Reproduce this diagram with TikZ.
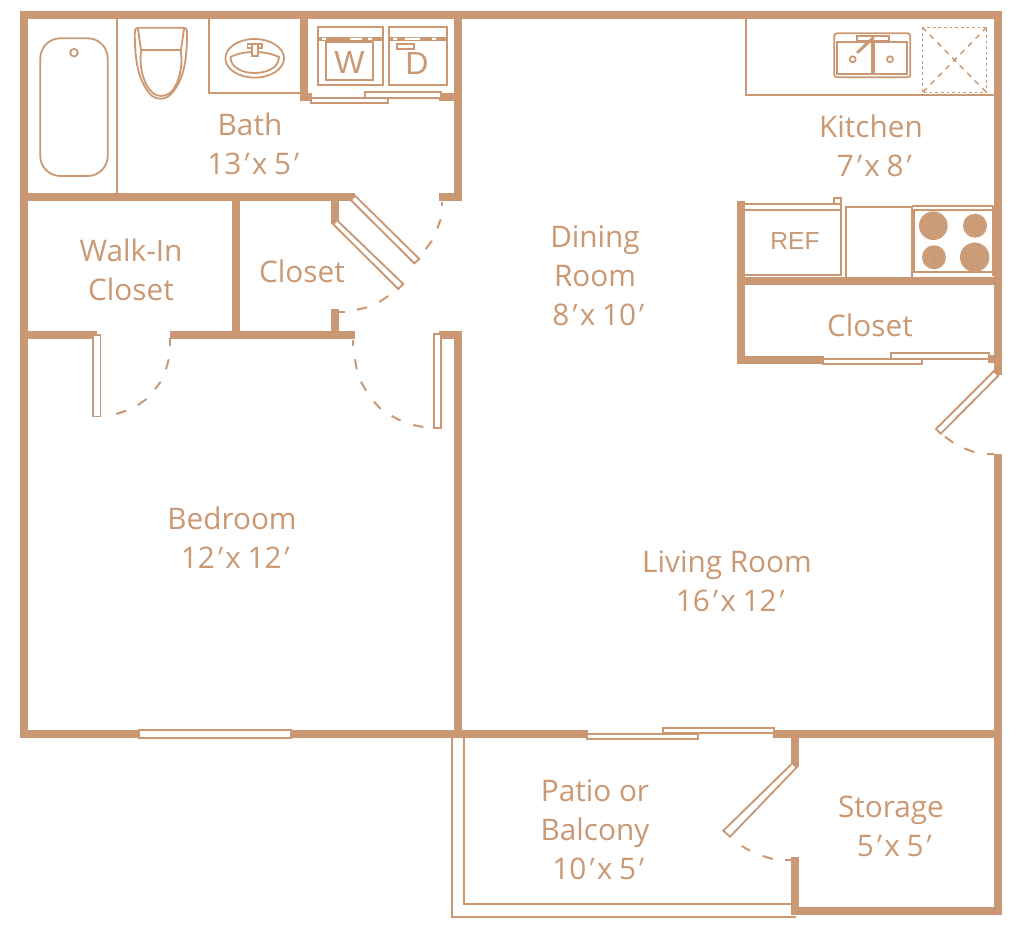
\documentclass[tikz,border=0pt]{standalone}
\usepackage{fontspec}
\setmainfont{Open Sans}
\newfontfamily\arialfont{Liberation Sans}
\newfontfamily\primefont[FakeSlant=0.35]{Open Sans}
\definecolor{tan}{HTML}{CA9974}
\tikzset{
  wall/.style={line width=6pt,color=tan,line cap=butt},
  thin/.style={line width=1.35pt,color=tan},
  fine/.style={line width=1.1pt,color=tan},
  door/.style={draw=tan,fill=white,line width=1.4pt},
  swing/.style={line width=1.5pt,color=tan},
  room/.style={text=tan,align=center,font=\fontsize{22.3}{29.3}\selectfont,inner sep=0pt},
  applabel/.style={text=tan,inner sep=0pt,font=\arialfont\fontsize{18.5}{20}\selectfont},
  burner/.style={fill=tan,draw=none},
  ring/.style={draw=white,opacity=0.16,line width=0.35pt},
}
\newcommand{\prm}{\kern-0.13em{\primefont\char"2032}\kern-0.04em}
\newcommand{\by}{\hspace{0.3em}x\hspace{0.22em}}
\begin{document}
\begin{tikzpicture}[x=0.75pt,y=-0.75pt]
\useasboundingbox (0,0) rectangle (1020,942);
\fill[white] (0,0) rectangle (1020,942);
% --- light fixture lines
\draw[thin] (116.8,19) -- (116.8,193);
\draw[thin] (209.3,19) -- (209.3,92.7) -- (300,92.7);
\draw[thin] (745.7,19) -- (745.7,95) -- (994,95);
% patio rail
\draw[thin] (451.7,738) -- (451.7,917.3) -- (796,917.3);
\draw[thin] (464,738) -- (464,904.3) -- (791,904.3);
% --- walls
\draw[wall] (24.3,11.5) -- (24.3,738);
\draw[wall] (20.5,15.5) -- (1002,15.5);
\draw[wall] (998,11.5) -- (998,374.5);
\draw[wall] (998,453.5) -- (998,914.5);
\draw[wall] (24,196.7) -- (355,196.7);
\draw[wall] (235.5,196) -- (235.5,335);
\draw[wall] (335,196) -- (335,223.5);
\draw[wall] (335,309.3) -- (335,335);
\draw[wall] (457.5,15) -- (457.5,200.7);
\draw[wall] (439,196.8) -- (457,196.8);
\draw[wall] (304,15) -- (304,101);
\draw[wall] (300,97.2) -- (312,97.2);
\draw[wall] (439,97.2) -- (457,97.2);
\draw[wall] (24,335) -- (97.3,335);
\draw[wall] (170,335) -- (355,335);
\draw[wall] (439,335) -- (461.7,335);
\draw[wall] (457.5,331) -- (457.5,738);
\draw[wall] (20.5,734) -- (587.7,734);
\draw[wall] (772.7,734) -- (1002,734);
\draw[wall] (795,734) -- (795,767);
\draw[wall] (795,857.3) -- (795,914.5);
\draw[wall] (791,910.5) -- (1002,910.5);
\draw[wall] (740.7,201) -- (740.7,363.3);
\draw[wall] (737,280.5) -- (994,280.5);
\draw[wall] (737,359.5) -- (824.3,359.5);
\draw[wall] (987.5,359) -- (994,359);
% --- sliding doors and windows
\draw[door] (311,97.7) rectangle (388,103.3);
\draw[door] (365,91.7) rectangle (441,97.7);
\draw[door] (823.3,359) rectangle (921.7,364.3);
\draw[door] (891,353.3) rectangle (989.3,359);
\draw[door] (586.7,734) rectangle (698.3,739.3);
\draw[door] (663.3,727.7) rectangle (774.3,733.3);
\draw[door,line width=1.7pt] (139,729.7) rectangle (291,738.3);
% --- swinging doors
\draw[door] (355,195.7) -- (350.7,200) -- (414.3,263.3) -- (419.3,259) -- cycle;
\draw[door] (336.7,220) -- (333.3,224.3) -- (398.3,289) -- (403.3,284) -- cycle;
\draw[door] (434,334) rectangle (441,428.3);
\draw[door] (93,335) rectangle (100.5,416.5);
\draw[door] (994,371) -- (998.3,375.7) -- (940.7,433.7) -- (936,429) -- cycle;
\draw[door] (792.3,763.3) -- (796.7,767.3) -- (730,836.7) -- (723.3,830.7) -- cycle;
% swing arcs (dashes)
\foreach \a/\b/\c/\d in {
  442/201.7/442/205.7, 440.7/219.3/437.3/228.3, 432/240.7/425.7/249,
  339/312/345/312, 356.7/309.7/367.3/307.3, 379.3/302/388.3/296,
  353.3/340/353.3/345.7, 355/359.3/356.7/369.3, 361/381.7/366/390.7, 374/401.7/380.7/409, 391.7/416/400.7/420.7, 413.3/425/423.3/427,
  170/338.3/170/346, 168.7/359.3/166/369.3, 160.7/381.7/155/389.3, 146.7/399/137.7/405, 126.3/410.7/116.3/414,
  945/436.7/953.3/442.7, 964.3/448.3/974.3/452.3, 987.3/454/994.3/454,
  741.7/846/750/850.7, 762.7/856/772.7/859, 785/860/791.7/860}
  {\draw[swing] (\a,\b) -- (\c,\d);}
% --- tub
\draw[thin,rounded corners=15pt] (40.3,38.3) rectangle (107.7,176);
\draw[thin] (74,52.7) circle[radius=3.8];
% --- toilet
\draw[thin] (134.8,33) .. controls (134.8,29) and (136,27.7) .. (140,27.7) -- (182,27.7)
  .. controls (186,27.7) and (187,29) .. (187,33)
  .. controls (187,60) and (184,80) .. (171,94)
  .. controls (166,100) and (156,100.5) .. (150,94)
  .. controls (138,80) and (134.8,60) .. (134.8,33) -- cycle;
\draw[thin] (138,29) -- (141,50) -- (181,50) -- (184,29);
\draw[thin] (141.5,50) .. controls (139,60) and (141,83) .. (153,93)
  .. controls (157,97) and (165,97) .. (170,93)
  .. controls (181,83) and (183,60) .. (180.5,50);
% --- bathroom sink
\draw[thin] (254.7,58.3) ellipse[x radius=29.3,y radius=19.3];
\draw[thin] (230.5,57) .. controls (230.5,68) and (243,73) .. (254.7,73)
  .. controls (266,73) and (279,68) .. (279,57)
  .. controls (270,53) and (262,52) .. (254.7,52)
  .. controls (247,52) and (238,53) .. (230.5,57) -- cycle;
\draw[thin,fill=white] (247.5,44) rectangle (262,48);
\draw[thin,fill=white] (252,44) rectangle (257.7,56);
% --- washer and dryer
\draw[thin] (317.7,27.3) rectangle (383,84.7);
\fill[tan] (317.7,36.7) rectangle (383,41.3);
\draw[thin,fill=white] (326,42) rectangle (373.3,80);
\fill[white] (322,38) rectangle (326,40) (350,38) rectangle (362,40) (368,38) rectangle (372,40);
\draw[thin] (389.3,27.3) rectangle (446.7,84.7);
\fill[tan] (389.3,36.7) rectangle (446.7,41.3);
\fill[white] (393,38) rectangle (397,40) (405,38) rectangle (420,40) (432,38) rectangle (436,40);
\draw[thin] (396.7,44.3) rectangle (414.3,49.3);
\node[applabel,font=\arialfont\fontsize{24}{24}\selectfont] (w) at (349.5,62) {W};
\node[applabel,font=\arialfont\fontsize{24}{24}\selectfont] (d) at (417,63) {D};
% --- kitchen sink
\draw[thin,rounded corners=2pt] (834.3,33.3) rectangle (910.3,77.3);
\draw[thin] (837.3,42.3) rectangle (872,74);
\draw[thin] (874.3,42.3) rectangle (907,74);
\draw[thin,fill=white] (857.3,36) rectangle (888.7,41);
\draw[line width=2.2pt,color=tan,line cap=round] (873.3,37.7) -- (857.7,52.3);
\draw[line width=1.3pt,color=tan] (852.7,59.3) circle[radius=3];
\draw[line width=1.3pt,color=tan] (890,59.3) circle[radius=3];
% --- dashed square
\draw[fine,dash pattern=on 2pt off 2.2pt] (922.3,27.3) rectangle (986.7,92.7);
\draw[fine,dash pattern=on 4pt off 4pt] (922.3,27.3) -- (986.7,92.7);
\draw[fine,dash pattern=on 4pt off 4pt] (986.7,27.3) -- (922.3,92.7);
% --- refrigerator
\draw[thin] (744,204) -- (834.3,204) -- (834.3,197.7) -- (840.7,197.7) -- (840.7,275) -- (744,275);
\draw[thin] (744,210) -- (840.7,210);
\draw[thin] (834.3,204) -- (840.7,204);
\node[applabel] (ref) at (795,241) {REF};
% --- counter and range
\draw[thin] (846,277) -- (846,206.7) -- (912,206.7) -- (912,277);
\draw[thin] (912,205.7) -- (993,205.7);
\draw[thin] (993,205.7) -- (993,276);
\draw[thin] (912,210) -- (993,210);
\draw[thin] (912,272.3) -- (993,272.3);
\draw[thin] (914,210) -- (914,272);
\foreach \cx/\cy/\r in {933.3/225.7/14.3, 975/225.7/12, 934/257.3/12, 974.7/257.3/14.7}{
  \fill[burner] (\cx,\cy) circle[radius=\r];
  \foreach \k in {0.3,0.5,0.7,0.9}{\draw[ring] (\cx,\cy) circle[radius=\k*\r];}
}
% --- room labels
\node[room] (bath) at (250,144) {Bath\\13\prm\by5\prm};
\node[room] (kitchen) at (871,146) {Kitchen\\7\prm\by8\prm};
\node[room] (walkin) at (131,270) {Walk-In\\Closet};
\node[room] (closetb) at (302,271) {Closet};
\node[room] (dining) at (595,275.5) {Dining\\Room\\8\prm\by10\prm};
\node[room] (closetk) at (870,325) {Closet};
\node[room] (bedroom) at (232,538) {Bedroom\\12\prm\by12\prm};
\node[room] (living) at (727,581) {Living Room\\16\prm\by12\prm};
\node[room] (patio) at (595,830) {Patio or\\Balcony\\10\prm\by5\prm};
\node[room] (storage) at (891,826) {Storage\\5\prm\by5\prm};
\end{tikzpicture}
\end{document}
